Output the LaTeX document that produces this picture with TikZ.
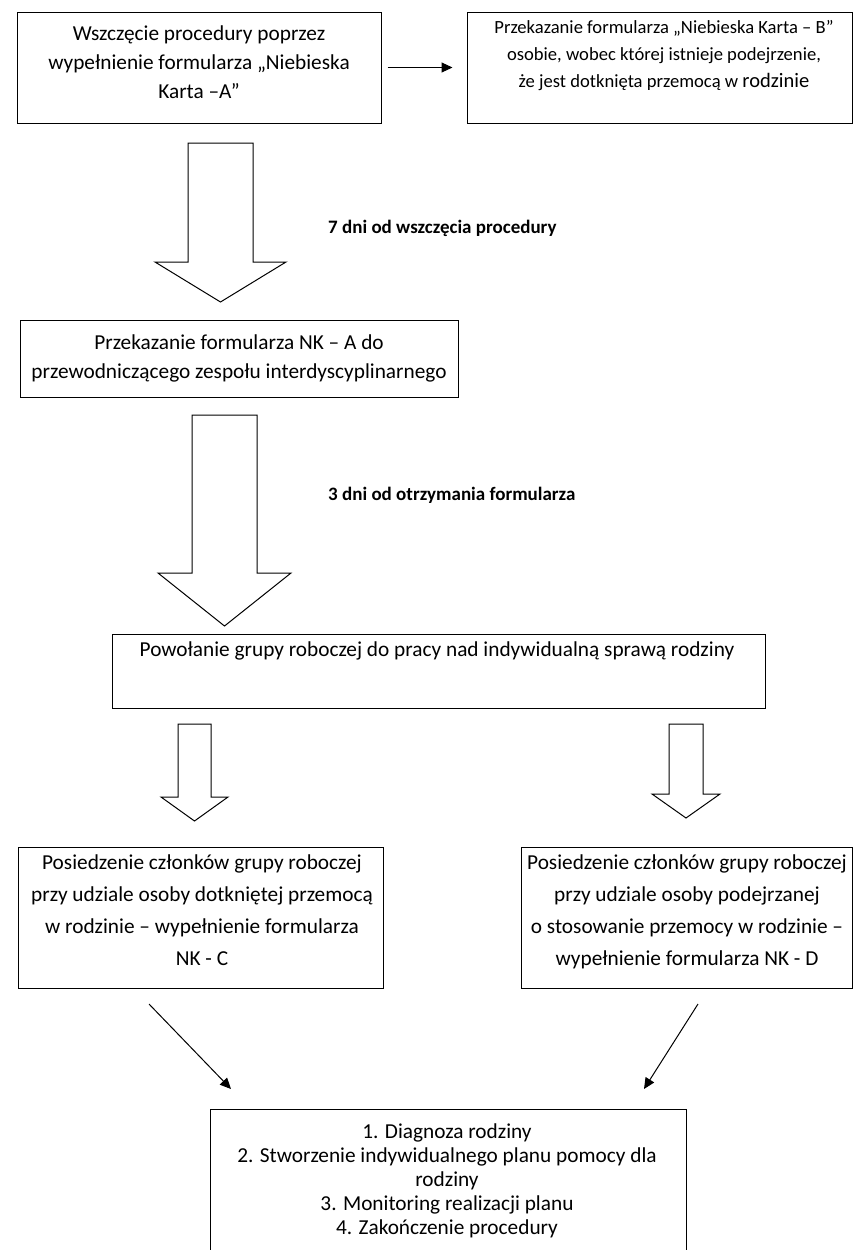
\documentclass[tikz,border=0pt]{standalone}
\usepackage{fontspec}
\setmainfont{Carlito}
\usetikzlibrary{arrows.meta}
\begin{document}
\begin{tikzpicture}[x=1pt,y=-1pt,
  box/.style={draw, line width=1pt, inner sep=0pt},
  body/.style={align=center, inner sep=0pt, anchor=north},
  blockarrow/.style={draw, line width=1pt, line join=miter, fill=white},
  conn/.style={line width=1pt, -{Triangle[length=11pt,width=10pt]}},
  lbl/.style={font=\bfseries\fontsize{19}{22}\selectfont, anchor=west, inner sep=0pt}]
\fill[white] (0,0) rectangle (854,1250);
\useasboundingbox (0,0) rectangle (854,1250);

% row 1
\node[box, minimum width=364pt, minimum height=111pt] (b1) at (199,67.5) {};
\node[body, font=\fontsize{21.3}{29}\selectfont] (t1) at (199,26)
  {Wszczęcie procedury poprzez\\wypełnienie formularza „Niebieska\\Karta –A”};
\node[box, minimum width=385pt, minimum height=111pt] (b2) at (659.5,67.5) {};
\node[body, font=\fontsize{18.6}{27}\selectfont] (t2) at (664,20.6)
  {Przekazanie formularza „Niebieska Karta – B”\\osobie, wobec której istnieje podejrzenie,\\że jest dotknięta przemocą w {\fontsize{20.5}{27}\selectfont rodzinie}};
\draw[conn, shorten <=6pt, shorten >=14pt] (b1.east) -- (b2.west);

% block arrow 1
\draw[blockarrow] (188,143) -- (253,143) -- (253,262) -- (286,262) -- (220.5,302) -- (155,262) -- (188,262) -- cycle;
\node[lbl] (l1) at (328,228) {7 dni od wszczęcia procedury};

% box 3
\node[box, minimum width=438pt, minimum height=77pt] (b3) at (239,358.5) {};
\node[body, font=\fontsize{21.3}{29}\selectfont] (t3) at (239,334.5)
  {Przekazanie formularza NK – A do\\przewodniczącego zespołu interdyscyplinarnego};

% block arrow 2
\draw[blockarrow] (192,415) -- (257,415) -- (257,573) -- (291,573) -- (224.5,626) -- (158,573) -- (192,573) -- cycle;
\node[lbl] (l2) at (328,495) {3 dni od otrzymania formularza};

% box 4
\node[box, minimum width=653pt, minimum height=74pt] (b4) at (438.5,671) {};
\node[body, font=\fontsize{21.3}{29}\selectfont] (t4) at (437,642)
  {Powołanie grupy roboczej do pracy nad indywidualną sprawą rodziny};

% small block arrows
\draw[blockarrow] (178,724) -- (211,724) -- (211,797) -- (228,797) -- (194.5,821) -- (161,797) -- (178,797) -- cycle;
\draw[blockarrow] (669,724) -- (703,724) -- (703,794) -- (720,794) -- (686,818) -- (652,794) -- (669,794) -- cycle;

% boxes 5 and 6
\node[box, minimum width=365pt, minimum height=141pt] (b5) at (200.5,917.5) {};
\node[body, font=\fontsize{21.3}{32}\selectfont] (t5) at (202,854)
  {Posiedzenie członków grupy roboczej\\przy udziale osoby dotkniętej przemocą\\w rodzinie – wypełnienie formularza\\NK - C};
\node[box, minimum width=331pt, minimum height=141pt] (b6) at (686.5,917.5) {};
\node[body, font=\fontsize{21.3}{32}\selectfont] (t6) at (687,854)
  {Posiedzenie członków grupy roboczej\\przy udziale osoby podejrzanej\\o stosowanie przemocy w rodzinie –\\wypełnienie formularza NK - D};

% diagonal arrows
\coordinate (d1s) at (149,1004);
\coordinate (d1e) at (231,1089);
\coordinate (d2s) at (698,1004);
\coordinate (d2e) at (644,1089);
\draw[conn] (d1s) -- (d1e);
\draw[conn] (d2s) -- (d2e);

% box 7
\node[box, minimum width=476pt, minimum height=161pt] (b7) at (448,1189.5) {};
\node[body, font=\fontsize{21.3}{24}\selectfont] (t7) at (447,1123.5)
  {1. Diagnoza rodziny\\2. Stworzenie indywidualnego planu pomocy dla\\rodziny\\3. Monitoring realizacji planu\\4. Zakończenie procedury};
\end{tikzpicture}
\end{document}
